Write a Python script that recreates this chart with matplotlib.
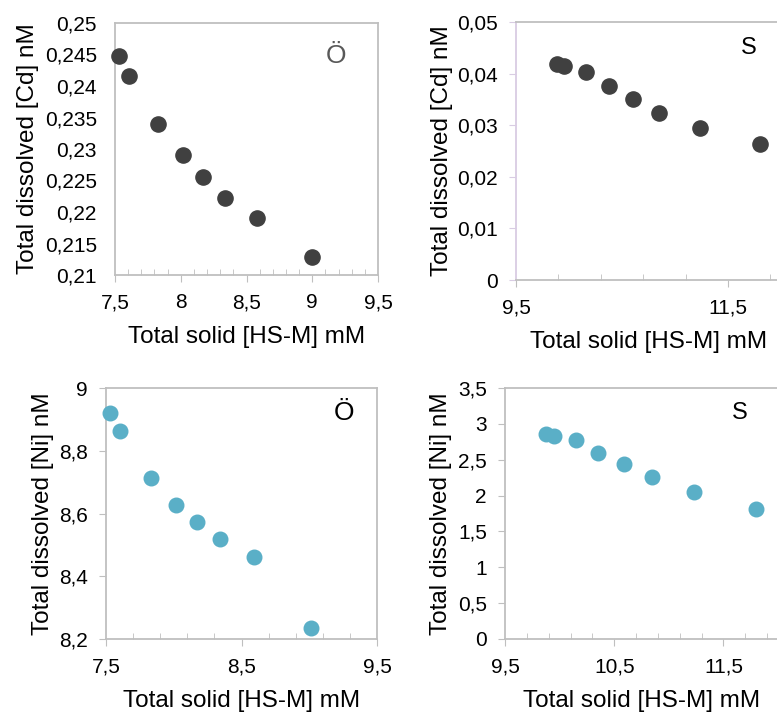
import numpy as np
import matplotlib.pyplot as plt
from matplotlib.ticker import FixedLocator, FuncFormatter

plt.rcParams['font.family'] = ['Liberation Sans', 'DejaVu Sans']

# top-left: Cd, site Ö
cd_o_x = [7.53, 7.605, 7.83, 8.02, 8.17, 8.34, 8.58, 9.0]
cd_o_y = [0.2447, 0.2416, 0.2340, 0.2290, 0.2255, 0.2223, 0.2191, 0.2128]

# top-right: Cd, site S
cd_s_x = [9.89, 9.95, 10.16, 10.38, 10.60, 10.85, 11.24, 11.80]
cd_s_y = [0.0419, 0.0415, 0.0403, 0.0376, 0.0350, 0.0324, 0.0295, 0.0263]

# bottom-left: Ni, site Ö
ni_o_x = [7.53, 7.60, 7.83, 8.02, 8.17, 8.34, 8.59, 9.01]
ni_o_y = [8.919, 8.862, 8.713, 8.628, 8.572, 8.520, 8.460, 8.235]

# bottom-right: Ni, site S
ni_s_x = [9.88, 9.95, 10.15, 10.35, 10.59, 10.85, 11.23, 11.80]
ni_s_y = [2.86, 2.83, 2.77, 2.60, 2.44, 2.26, 2.05, 1.81]

dark = "#404040"
teal = "#5AAFC7"
grey = "#BFBFBF"

W, H = 777, 715


def comma(v, pos):
    return "{:g}".format(round(v, 5)).replace(".", ",")


def make_ax(fig, l, r, t, b):
    return fig.add_axes([l / W, 1 - b / H, (r - l) / W, (b - t) / H])


def ticks(start, stop, step):
    return np.arange(start, stop + step / 2, step)


def style(ax, xlim, ylim, xmaj, xmin, ymaj, ylabel, show_right=True, left_col=grey,
          yticks=True, ylabelpad=4):
    ax.set_xlim(*xlim)
    ax.set_ylim(*ylim)
    ax.xaxis.set_major_locator(FixedLocator(ticks(xlim[0], xlim[1], xmaj)))
    ax.xaxis.set_minor_locator(FixedLocator(ticks(xlim[0], xlim[1], xmin)))
    ax.yaxis.set_major_locator(FixedLocator(ticks(ylim[0], ylim[1], ymaj)))
    ax.xaxis.set_major_formatter(FuncFormatter(comma))
    ax.yaxis.set_major_formatter(FuncFormatter(comma))
    for name, sp in ax.spines.items():
        sp.set_color(grey)
        sp.set_linewidth(1.3)
    ax.spines["left"].set_color(left_col)
    if not show_right:
        ax.spines["right"].set_visible(False)
    ax.tick_params(axis="x", which="major", direction="out", length=5, color=grey,
                   labelsize=15, pad=8)
    ax.tick_params(axis="x", which="minor", direction="in", length=4, color=grey)
    ax.tick_params(axis="y", which="major", direction="out", length=5 if yticks else 0,
                   color=left_col, labelsize=15, pad=8 if yticks else 13)
    ax.set_xlabel("Total solid [HS-M] mM", fontsize=17.5, labelpad=10)
    ax.set_ylabel(ylabel, fontsize=17.5, labelpad=ylabelpad)


fig = plt.figure(figsize=(W / 100, H / 100), dpi=100)

ax1 = make_ax(fig, 115, 378, 23, 275)
ax1.scatter(cd_o_x, cd_o_y, s=120, color=dark, zorder=3, clip_on=False)
style(ax1, (7.5, 9.5), (0.21, 0.25), 0.5, 0.1, 0.005, "Total dissolved [Cd] nM",
      yticks=False, ylabelpad=4)
ax1.text(0.84, 0.87, "Ö", transform=ax1.transAxes, fontsize=19, color="#595959",
         ha="center", va="center")

ax2 = make_ax(fig, 516, 781, 22, 280)
ax2.scatter(cd_s_x, cd_s_y, s=120, color=dark, zorder=3, clip_on=False)
style(ax2, (9.5, 12.0), (0, 0.05), 2, 0.4, 0.01, "Total dissolved [Cd] nM",
      show_right=False, left_col="#D9CCE3", ylabelpad=3)
ax2.text(0.88, 0.90, "S", transform=ax2.transAxes, fontsize=17, color="black",
         ha="center", va="center")

ax3 = make_ax(fig, 106, 377, 388, 639)
ax3.scatter(ni_o_x, ni_o_y, s=110, color=teal, zorder=3, clip_on=False)
style(ax3, (7.5, 9.5), (8.2, 9.0), 1, 0.2, 0.2, "Total dissolved [Ni] nM", ylabelpad=4)
ax3.text(0.88, 0.90, "Ö", transform=ax3.transAxes, fontsize=19, color="black",
         ha="center", va="center")

ax4 = make_ax(fig, 505, 778, 388, 639)
ax4.scatter(ni_s_x, ni_s_y, s=110, color=teal, zorder=3, clip_on=False)
style(ax4, (9.5, 12.0), (0, 3.5), 1, 0.2, 0.5, "Total dissolved [Ni] nM",
      show_right=False, ylabelpad=4)
ax4.text(0.86, 0.90, "S", transform=ax4.transAxes, fontsize=17, color="black",
         ha="center", va="center")

fig.savefig("out.png", dpi=100)
